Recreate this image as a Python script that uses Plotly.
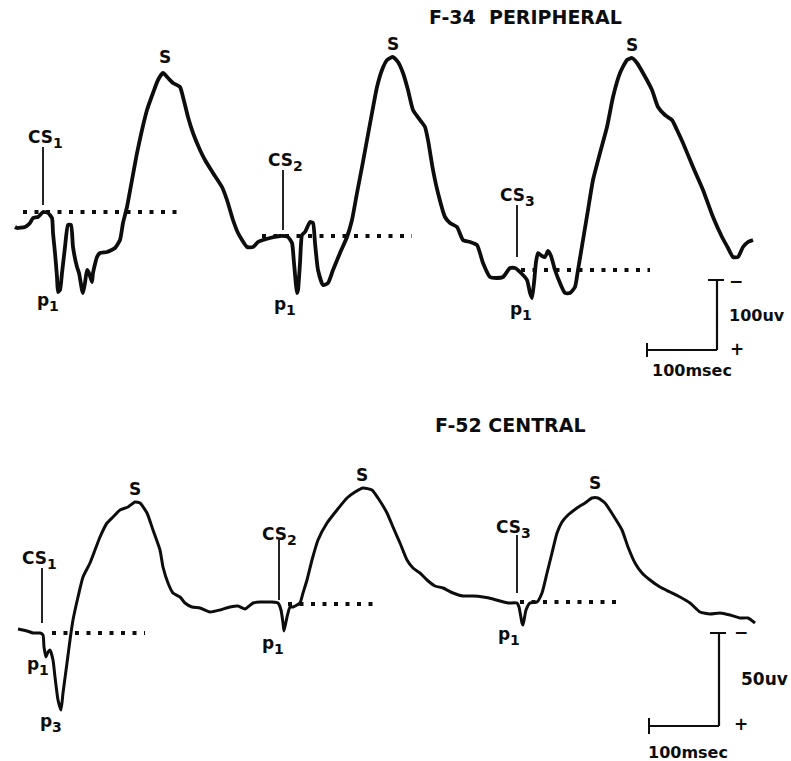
import plotly.graph_objects as go

# ---- Data (time / amplitude in chart units; y grows downward = positive potential) ----
# Top recording: F-34 PERIPHERAL
top_time = [15,17,25,30,33,38,43,48,52,53,55,57,58,60,62,65,68,71,73,77,79,82,83,85,87,89,92,93,97,100,107,115,120,123,127,132,137,142,147,153,158,163,168,173,180,183,188,193,200,205,213,222,227,233,238,247,253,258,
            263,270,280,288,292,294,297,298,300,302,305,310,313,315,318,323,328,333,340,347,352,357,362,367,372,377,382,387,393,398,403,408,413,420,425,428,433,438,445,450,457,463,470,477,483,490,497,503,510,515,520,527,530,532,534,536,538,542,545,548,551,555,560,565,570,575,578,583,588,593,600,607,613,620,627,632,637,643,652,658,665,672,677,683,693,703,713,722,728,733,738,743,748,753]
top_amp = [227,228,227,223,218,217,212,213,218,233,253,277,292,290,273,247,225,225,247,267,273,290,293,283,270,273,282,273,257,253,252,248,240,223,207,180,153,130,110,93,80,73,78,83,87,97,117,133,150,160,173,187,200,220,233,247,247,242,
           240,238,236,237,243,263,293,290,263,235,232,222,223,243,270,285,283,270,253,237,220,193,167,140,113,87,70,60,57,62,73,90,110,120,127,140,170,193,217,223,227,240,242,245,263,277,278,277,268,268,272,280,293,298,283,262,253,256,257,251,256,270,283,293,293,287,270,240,210,180,153,127,97,73,60,58,63,73,90,107,115,120,130,143,167,190,217,237,248,257,257,247,242,240]

# Bottom recording: F-52 CENTRAL
bot_time = [18,27,33,40,43,44,46,48,50,53,55,58,61,63,67,70,73,78,83,90,95,100,107,113,120,128,135,140,147,153,160,163,168,173,180,185,192,200,210,220,230,238,245,253,260,
            263,272,278,281,283,284,287,290,293,297,300,303,307,312,318,327,337,347,355,363,372,378,387,393,400,407,413,420,427,435,443,453,463,473,483,493,500,508,517,519,522,523,526,530,537,542,547,552,557,562,568,577,585,592,598,605,613,622,628,635,642,650,660,670,680,690,700,710,720,730,740,748,755]
bot_amp = [629,631,633,633,635,647,657,652,650,660,677,700,710,693,663,640,620,597,577,563,550,537,523,517,510,507,502,503,513,530,550,567,583,593,597,603,607,608,612,610,607,606,609,603,602,
           602,602,603,610,623,631,617,607,607,605,603,593,580,560,540,523,510,498,492,488,490,498,513,527,543,560,568,573,580,586,588,593,596,596,597,599,601,603,603,607,623,625,610,603,602,593,573,553,533,522,515,508,503,498,498,503,515,530,547,563,573,580,587,592,597,603,612,614,613,615,618,618,623]

# Pre-stimulus baselines (start, end, level)
top_base_start = [23, 262, 521]
top_base_end = [183, 412, 650]
top_base_level = [212, 236, 270]
bot_base_start = [52, 288, 520]
bot_base_end = [145, 380, 620]
bot_base_level = [633, 604, 602]

# CS onset markers (time, top, bottom)
top_cs_time = [43, 283, 517]
top_cs_y0 = [147, 170, 205]
top_cs_y1 = [205, 230, 257]
bot_cs_time = [42, 279, 517]
bot_cs_y0 = [568, 540, 535]
bot_cs_y1 = [623, 600, 593]

# Calibration: 100 msec = 70 units; top 100 uV = 70 units; bottom 50 uV = 93 units
time_bar = 70
top_volt_bar = 70
bot_volt_bar = 93

BLACK = "#0d0d0d"
fig = go.Figure()

def add_line(xs, ys, width=3.0, dash=None, shape="linear"):
    fig.add_trace(go.Scatter(x=xs, y=ys, mode="lines",
                             line=dict(color=BLACK, width=width, dash=dash, shape=shape,
                                       smoothing=0.5 if shape == "spline" else None),
                             hoverinfo="skip", showlegend=False))

# baselines
for s, e, lv in zip(top_base_start + bot_base_start, top_base_end + bot_base_end,
                    top_base_level + bot_base_level):
    add_line([s, e], [lv, lv], width=4, dash="4px,7.5px")

# traces
add_line(top_time, top_amp, width=3.8, shape="spline")
add_line(bot_time, bot_amp, width=3.0, shape="spline")

# CS markers
for t, a, b in zip(top_cs_time + bot_cs_time, top_cs_y0 + bot_cs_y0, top_cs_y1 + bot_cs_y1):
    add_line([t, t], [a, b], width=1.8)

# calibration bars
def calib(x_right, y_top, vbar, tick_half):
    x_left = x_right - time_bar
    y_bot = y_top + vbar
    add_line([x_right - 9, x_right + 7], [y_top, y_top], width=2.0)
    add_line([x_right, x_right], [y_top, y_bot], width=2.2)
    add_line([x_left, x_right], [y_bot, y_bot], width=2.2)
    add_line([x_left, x_left], [y_bot - tick_half, y_bot + tick_half], width=2.0)

calib(717, 280, top_volt_bar, 7)
calib(719, 633, bot_volt_bar, 8)

FONT = "DejaVu Sans"

def txt(x, y, s, size=17, xanchor="center"):
    fig.add_annotation(x=x, y=y, text=s, showarrow=False, xanchor=xanchor, yanchor="middle",
                       borderpad=0,
                       font=dict(family=FONT, size=size, color=BLACK, weight="bold"))

def label_sub(cx, cy, base, idx, size=17):
    # main text + near full-size lowered subscript, centred as a group on (cx, cy)
    base_w = {"CS": 24.5, "p": 12.0}[base] * size / 17
    sub_w = 9.5 * size / 17
    total = base_w + sub_w
    left = cx - total / 2
    txt(left, cy, base, size=size, xanchor="left")
    txt(left + base_w, cy + 6, str(idx), size=int(size * 0.85), xanchor="left")

# titles
txt(525, 17, "F-34&nbsp;&nbsp;PERIPHERAL", size=19)
txt(510, 425, "F-52 CENTRAL", size=19)

# top labels
txt(165, 57, "S")
txt(393, 44, "S")
txt(632, 45, "S")
label_sub(44, 137, "CS", 1)
label_sub(284, 160, "CS", 2)
label_sub(516, 195, "CS", 3)
label_sub(47, 300, "p", 1)
label_sub(284, 304, "p", 1)
label_sub(520, 309, "p", 1)

# bottom labels
txt(135, 489, "S")
txt(362, 475, "S")
txt(595, 483, "S")
label_sub(38, 558, "CS", 1)
label_sub(278, 534, "CS", 2)
label_sub(512, 527, "CS", 3)
label_sub(37, 664, "p", 1)
label_sub(50, 721, "p", 3)
label_sub(272, 643, "p", 1)
label_sub(508, 634, "p", 1)

# calibration labels
txt(736, 281, "−", size=17)
txt(737, 349, "+", size=17)
txt(757, 315, "100uv", size=16)
txt(692, 370, "100msec", size=16)
txt(741, 632, "−", size=17)
txt(741, 724, "+", size=17)
txt(764, 679, "50uv", size=17)
txt(688, 752, "100msec", size=16)

fig.update_layout(
    width=791, height=761,
    margin=dict(l=0, r=0, t=0, b=0),
    paper_bgcolor="white", plot_bgcolor="white",
    font=dict(family=FONT, size=17, color=BLACK),
    xaxis=dict(range=[0, 791], visible=False, fixedrange=True),
    yaxis=dict(range=[761, 0], visible=False, fixedrange=True),
    showlegend=False,
)

fig.write_html("out.html")
